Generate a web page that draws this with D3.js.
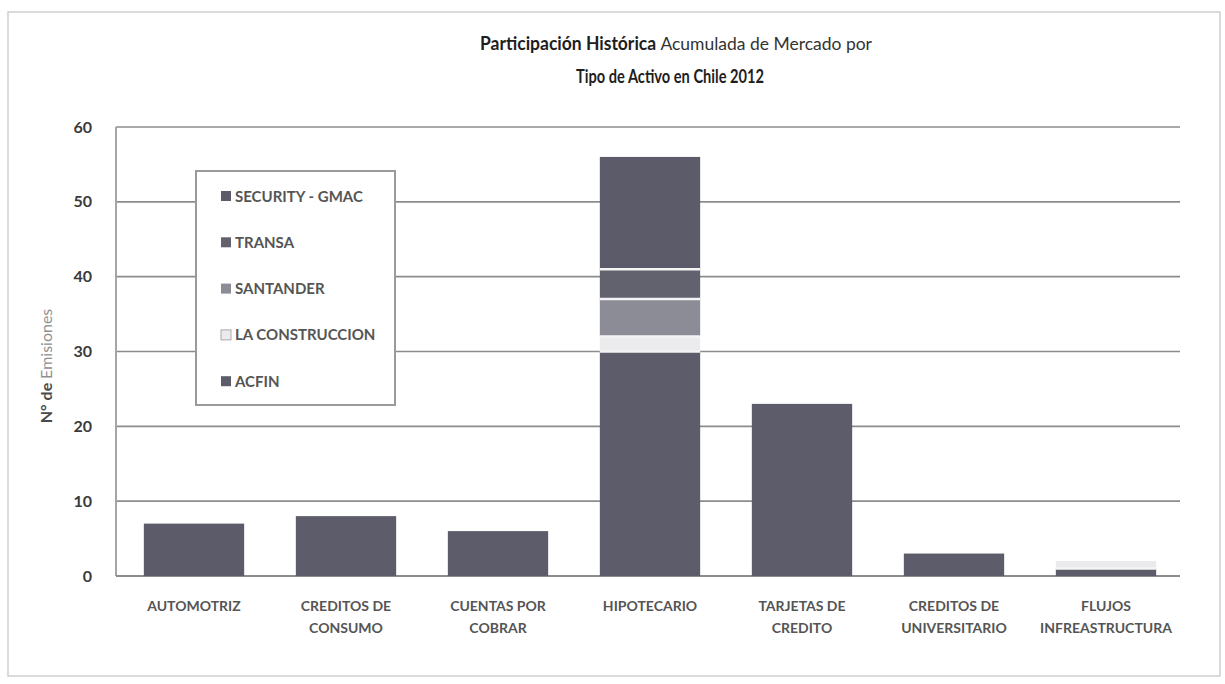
<!DOCTYPE html>
<html>
<head>
<meta charset="utf-8">
<script src="https://cdn.jsdelivr.net/npm/d3@7"></script>
<style>
  body { margin: 0; background: #fff; }
  svg text { font-family: Lato, "DejaVu Sans", sans-serif; }
</style>
</head>
<body>
<div id="container"></div>
<script>
"use strict";

const width = 1225;
const height = 684;

// categories (x labels, split on two lines)
const categories = ["AUTOMOTRIZ", "CREDITOS DE CONSUMO", "CUENTAS POR COBRAR", "HIPOTECARIO",
    "TARJETAS DE CREDITO", "CREDITOS DE UNIVERSITARIO", "FLUJOS INFREASTRUCTURA"];
const categoryLines = [
    ["AUTOMOTRIZ"],
    ["CREDITOS DE", "CONSUMO"],
    ["CUENTAS POR", "COBRAR"],
    ["HIPOTECARIO"],
    ["TARJETAS DE", "CREDITO"],
    ["CREDITOS DE", "UNIVERSITARIO"],
    ["FLUJOS", "INFREASTRUCTURA"]
];

// series, bottom to top of the stack
const seriesNames = ["ACFIN", "LA CONSTRUCCION", "SANTANDER", "TRANSA", "SECURITY - GMAC"];
const acfin          = [0, 8, 6, 30, 23, 3, 1];
const laConstruccion = [0, 0, 0, 2, 0, 0, 1];
const santander      = [0, 0, 0, 5, 0, 0, 0];
const transa         = [0, 0, 0, 4, 0, 0, 0];
const securityGmac   = [7, 0, 0, 15, 0, 0, 0];

const yTicks = [0, 10, 20, 30, 40, 50, 60];

const seriesColors = ["#5c5c6a", "#ebebee", "#8c8c97", "#62626f", "#5b5b69"];

// build rows for d3.stack
const seriesValues = [acfin, laConstruccion, santander, transa, securityGmac];
const rows = categories.map((c, i) => {
    let r = { cat: c };
    seriesNames.forEach((s, j) => r[s] = seriesValues[j][i]);
    return r;
});

const svg = d3.select("#container").append("svg")
    .attr("width", width)
    .attr("height", height);

// outer chart border
svg.append("rect")
    .attr("x", 8).attr("y", 12)
    .attr("width", 1212).attr("height", 664)
    .attr("fill", "none")
    .attr("stroke", "#cfcfcf")
    .attr("stroke-width", 1.5);

const x = d3.scaleBand()
    .domain(categories)
    .range([118, 1182])
    .paddingInner(0.34)
    .paddingOuter(0.17);

const y = d3.scaleLinear()
    .domain([0, 60])
    .range([576, 127]);

// gridlines
svg.append("g")
    .selectAll("line")
    .data(yTicks.filter(t => t > 0))
    .join("line")
    .attr("x1", 116).attr("x2", 1180)
    .attr("y1", d => y(d)).attr("y2", d => y(d))
    .attr("stroke", "#8c8c8c")
    .attr("stroke-width", 1.6);

// left axis line and baseline
svg.append("line")
    .attr("x1", 116).attr("x2", 116)
    .attr("y1", y(60)).attr("y2", y(0))
    .attr("stroke", "#a5a5a5").attr("stroke-width", 2);
svg.append("line")
    .attr("x1", 116).attr("x2", 1180)
    .attr("y1", y(0)).attr("y2", y(0))
    .attr("stroke", "#8c8c8c").attr("stroke-width", 2);

// y axis tick labels
const yAxis = d3.axisLeft(y).tickValues(yTicks).tickSize(0).tickPadding(24);
const ya = svg.append("g").attr("transform", "translate(116,0)").call(yAxis);
ya.select(".domain").remove();
ya.selectAll("text")
    .attr("font-size", 16)
    .attr("font-weight", 700)
    .attr("fill", "#3a3a3a");

// y axis title
const yt = svg.append("text")
    .attr("transform", "translate(52,366) rotate(-90)")
    .attr("text-anchor", "middle")
    .attr("font-size", 16)
    .attr("font-weight", 700);
yt.append("tspan").attr("fill", "#4a4a4a").text("N° de ");
yt.append("tspan").attr("fill", "#8f8f8f").attr("font-weight", 400).text("Emisiones");

// stacked bars
const stack = d3.stack().keys(seriesNames);
const stacked = stack(rows);

const layers = svg.append("g")
    .selectAll("g")
    .data(stacked)
    .join("g")
    .attr("fill", (d, i) => seriesColors[i]);

layers.selectAll("rect")
    .data(d => d.filter(p => p[1] > p[0]))
    .join("rect")
    .attr("x", d => x(d.data.cat))
    .attr("width", x.bandwidth())
    .attr("y", d => y(d[1]))
    .attr("height", d => y(d[0]) - y(d[1]));

// thin white separators between stacked segments
const seps = [];
stacked.forEach((layer, i) => {
    if (i === 0) return;
    layer.forEach(p => {
        if (p[1] > p[0] && p[0] > 0) seps.push({ cat: p.data.cat, v: p[0] });
    });
});
svg.append("g")
    .selectAll("line")
    .data(seps)
    .join("line")
    .attr("x1", d => x(d.cat)).attr("x2", d => x(d.cat) + x.bandwidth())
    .attr("y1", d => y(d.v)).attr("y2", d => y(d.v))
    .attr("stroke", "#f4f4f4").attr("stroke-width", 2.5);

// x labels
const xl = svg.append("g")
    .selectAll("text")
    .data(categories)
    .join("text")
    .attr("x", d => x(d) + x.bandwidth() / 2)
    .attr("y", 611)
    .attr("text-anchor", "middle")
    .attr("font-size", 14)
    .attr("font-weight", 700)
    .attr("fill", "#555");
xl.selectAll("tspan")
    .data((d, i) => categoryLines[i])
    .join("tspan")
    .attr("x", function() { return this.parentNode.getAttribute("x"); })
    .attr("dy", (d, i) => i === 0 ? 0 : 22)
    .text(d => d);

// legend (top series first)
const legendOrder = seriesNames.slice().reverse();
svg.append("rect")
    .attr("x", 196).attr("y", 171)
    .attr("width", 199).attr("height", 234)
    .attr("fill", "#fff")
    .attr("stroke", "#9a9a9a")
    .attr("stroke-width", 2);

const lg = svg.append("g")
    .selectAll("g")
    .data(legendOrder)
    .join("g")
    .attr("transform", (d, i) => "translate(221," + (196 + i * 46.3) + ")");
lg.append("rect")
    .attr("x", 0).attr("y", -5)
    .attr("width", 10).attr("height", 10)
    .attr("fill", d => seriesColors[seriesNames.indexOf(d)])
    .attr("stroke", d => d === "LA CONSTRUCCION" ? "#aaa" : "none");
lg.append("text")
    .attr("x", 14).attr("y", 5.5)
    .attr("font-size", 15)
    .attr("font-weight", 700)
    .attr("fill", "#555")
    .text(d => d);

// title
const title = svg.append("text")
    .attr("x", 676).attr("y", 50)
    .attr("text-anchor", "middle")
    .attr("font-size", 18)
    .attr("font-weight", 700)
    .attr("fill", "#1e1e1e")
    .attr("textLength", 392)
    .attr("lengthAdjust", "spacingAndGlyphs");
title.append("tspan").text("Participación Histórica ");
title.append("tspan").attr("font-weight", 400).attr("fill", "#333").text("Acumulada de Mercado por");
svg.append("text")
    .attr("x", 670).attr("y", 83)
    .attr("text-anchor", "middle")
    .attr("font-size", 18)
    .attr("font-weight", 700)
    .attr("fill", "#1e1e1e")
    .attr("textLength", 188)
    .attr("lengthAdjust", "spacingAndGlyphs")
    .text("Tipo de Activo en Chile 2012");
</script>
</body>
</html>
